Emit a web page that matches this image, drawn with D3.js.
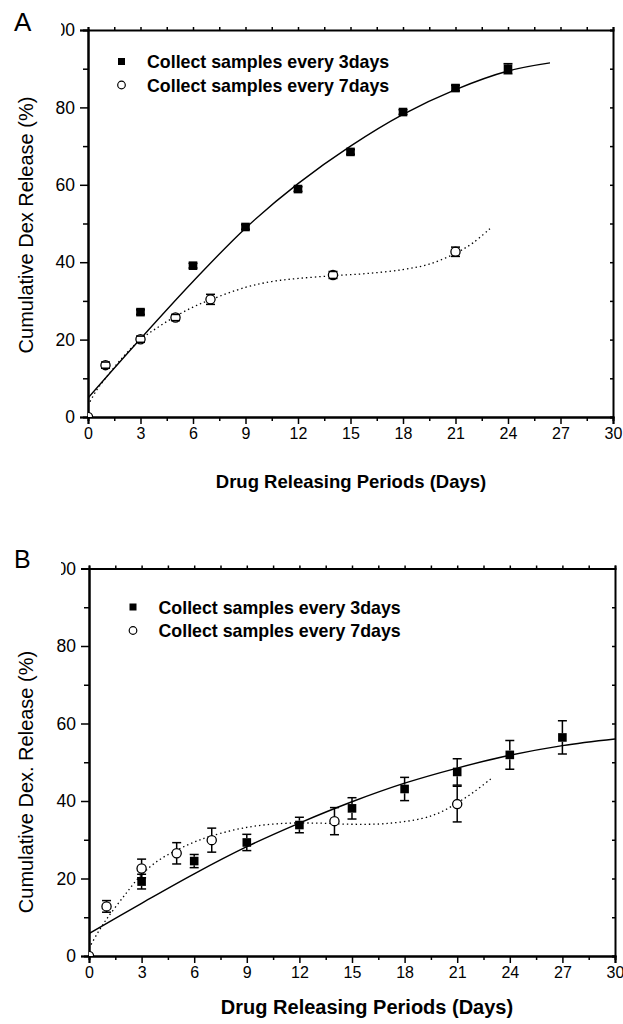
<!DOCTYPE html>
<html><head><meta charset="utf-8">
<script src="https://cdn.jsdelivr.net/npm/d3@7"></script>
<style>body{margin:0;background:#fff}svg{display:block}text{font-family:"Liberation Sans",Arial,sans-serif;fill:#000}</style>
</head><body>
<script>
// ---------- data ----------
const seriesNames = ["Collect samples every 3days", "Collect samples every 7days"];
const xTickLabels = [0,3,6,9,12,15,18,21,24,27,30];
const yTickLabels = [0,20,40,60,80,100];

// Panel A
const daysA3 = [3,6,9,12,15,18,21,24];
const valsA3 = [27.1,39.1,49.1,58.9,68.5,78.8,85.0,90.0];
const errA3  = [0.6,0.6,0.6,0.6,0.6,0.6,0.7,1.3];
const daysA7 = [0,1,3,5,7,14,21];
const valsA7 = [0,13.4,20.1,25.7,30.4,36.7,42.7];
const errA7  = [0,0.8,0.8,0.8,1.3,0.9,1.2];
const fitDaysA3 = [0,3,6,9,12,15,18,21,24,26.4];
const fitValsA3 = [4.9,20.2,35.0,48.8,60.3,70.0,78.2,84.6,89.4,91.5];
const fitDaysA7 = [0,0.5,1,2,3,4,5,6,7,9,10.5,12,14,16,18,19.5,21,22,23];
const fitValsA7 = [3,7,10,15.5,20,23.2,26,28.4,30.3,33.5,35.0,35.8,36.5,37.1,38.1,39.5,42.3,45.0,48.8];

// Panel B
const daysB3 = [3,6,9,12,15,18,21,24,27];
const valsB3 = [19.2,24.5,29.3,33.8,38.1,43.1,47.5,51.9,56.4];
const errB3  = [1.9,1.7,2.1,2.0,2.75,3.0,3.4,3.7,4.3];
const daysB7 = [0,1,3,5,7,14,21];
const valsB7 = [0,12.8,22.6,26.5,29.9,34.8,39.2];
const errB7  = [0,1.5,2.4,2.75,3.1,3.5,4.6];
const fitDaysB3 = [0,3,6,9,12,15,18,21,24,27,30];
const fitValsB3 = [5.8,13.6,21.2,28.2,34.3,39.8,44.6,48.5,51.8,54.3,56.0];
const fitDaysB7 = [0,0.5,1,2,3,4,5,6,7,9,11,13,15,17,19,20,21,22,23];
const fitValsB7 = [2,6,9.5,15.5,21,24.8,27.3,29.4,31,33.2,34.2,34.3,34.0,34.2,35.5,37,39.5,42.5,46];

const zip = (xs, ys, es) => xs.map((x,i)=>({x, y: ys[i], e: es ? es[i] : 0}));

const svg = d3.select("body").append("svg").attr("width",623).attr("height",1024);

function panel(cfg){
  const g = svg.append("g");
  const x = d3.scaleLinear().domain([0,30]).range([cfg.x0, cfg.x1]);
  const y = d3.scaleLinear().domain([0,100]).range([cfg.y0, cfg.y1]);
  const clipId = "clip" + cfg.letter;
  svg.append("clipPath").attr("id", clipId).append("rect")
     .attr("x", cfg.clipX - cfg.x0).attr("y", -2000).attr("width", 600).attr("height", 4000);
  const plotClip = "plot" + cfg.letter;
  svg.append("clipPath").attr("id", plotClip).append("rect")
     .attr("x", cfg.x0).attr("y", cfg.y1).attr("width", cfg.x1-cfg.x0).attr("height", cfg.y0-cfg.y1);

  // bottom axis
  const bx = g.append("g").attr("transform",`translate(0,${cfg.y0})`)
    .call(d3.axisBottom(x).tickValues(xTickLabels).tickSize(7).tickPadding(4).tickFormat(d3.format("d")));
  bx.selectAll(".tick text").style("font-size","16px");
  g.append("g").attr("transform",`translate(0,${cfg.y0})`)
    .call(d3.axisBottom(x).tickValues(xTickLabels.slice(0,-1).map(d=>d+1.5)).tickSize(4).tickFormat(""));
  // left axis
  const ly = g.append("g").attr("transform",`translate(${cfg.x0},0)`)
    .call(d3.axisLeft(y).tickValues(yTickLabels).tickSize(8).tickPadding(5).tickFormat(d3.format("d")));
  ly.selectAll(".tick text").style("font-size","17.5px")
    .filter(d=>d===100).attr("clip-path",`url(#${clipId})`);
  g.append("g").attr("transform",`translate(${cfg.x0},0)`)
    .call(d3.axisLeft(y).tickValues([10,30,50,70,90]).tickSize(5).tickFormat(""));
  // top axis
  g.append("g").attr("transform",`translate(0,${cfg.y1})`)
    .call(d3.axisTop(x).tickValues(d3.range(0,30.01,1.5)).tickSize(3).tickFormat(""));
  // right axis
  g.append("g").attr("transform",`translate(${cfg.x1},0)`)
    .call(d3.axisLeft(y).tickValues(d3.range(0,100.01,10)).tickSize(3).tickFormat(""));

  g.selectAll(".domain").attr("stroke","#000").attr("stroke-width",2);
  g.selectAll(".tick line").attr("stroke","#000").attr("stroke-width",1.5);
  g.selectAll(".tick text").attr("fill","#000");

  // axis titles
  g.append("text").attr("x", cfg.xtX).attr("y", cfg.xtY).attr("text-anchor","middle")
    .style("font-weight","bold").style("font-size", cfg.xtSize+"px").text("Drug Releasing Periods (Days)");
  g.append("text").attr("transform",`translate(33,${cfg.ytY}) rotate(-90)`).attr("text-anchor","middle")
    .style("font-size","20px").text(cfg.ytText);
  g.append("text").attr("x",14).attr("y",cfg.letterY).style("font-size",cfg.letterSize+"px").text(cfg.letter);

  const m = g.append("g").attr("clip-path",`url(#${plotClip})`);
  // fitted curves
  const line = d3.line().x(d=>x(d.x)).y(d=>y(d.y)).curve(d3.curveCatmullRom.alpha(0.5));
  m.append("path").datum(zip(cfg.fit3d, cfg.fit3v)).attr("d",line)
    .attr("fill","none").attr("stroke","#000").attr("stroke-width",1.4);
  m.append("path").datum(zip(cfg.fit7d, cfg.fit7v)).attr("d",line)
    .attr("fill","none").attr("stroke","#000").attr("stroke-width",1.3).attr("stroke-dasharray","1.4,3");

  const r = 4.6, hs = 4.3;
  function errorBars(data, half){
    data.forEach(d=>{
      const cx = x(d.x), top = y(d.y + d.e), bot = y(d.y - d.e), c = y(d.y);
      if (d.e === 0) return;
      if (c - top > half){
        m.append("line").attr("x1",cx).attr("x2",cx).attr("y1",top).attr("y2",c-half).attr("stroke","#000").attr("stroke-width",1.5);
        m.append("line").attr("x1",cx).attr("x2",cx).attr("y1",c+half).attr("y2",bot).attr("stroke","#000").attr("stroke-width",1.5);
      }
      [top,bot].forEach(yy=>m.append("line").attr("x1",cx-4.5).attr("x2",cx+4.5).attr("y1",yy).attr("y2",yy)
        .attr("stroke","#000").attr("stroke-width",1.5));
    });
  }
  const d3s = zip(cfg.d3, cfg.v3, cfg.e3), d7s = zip(cfg.d7, cfg.v7, cfg.e7);
  m.selectAll(null).data(d7s).enter().append("circle")
    .attr("cx",d=>x(d.x)).attr("cy",d=>y(d.y)).attr("r",r)
    .attr("fill","#fff").attr("stroke","#000").attr("stroke-width",1.3);
  m.selectAll(null).data(d3s).enter().append("rect")
    .attr("x",d=>x(d.x)-hs).attr("y",d=>y(d.y)-hs).attr("width",2*hs).attr("height",2*hs).attr("fill","#000");
  errorBars(d7s, r);
  errorBars(d3s, hs);

  // legend
  const lg = g.append("g");
  lg.append("rect").attr("x",cfg.legX-3.5).attr("y",cfg.legY-3.5).attr("width",7).attr("height",7).attr("fill","#000");
  lg.append("circle").attr("cx",cfg.legX).attr("cy",cfg.legY+23.5).attr("r",3.8)
    .attr("fill","#fff").attr("stroke","#000").attr("stroke-width",1.2);
  seriesNames.forEach((s,i)=>lg.append("text").attr("x",cfg.legX+25.5).attr("y",cfg.legY+6.5+i*23.5)
    .style("font-weight","bold").style("font-size","17.8px").text(s));
}

panel({letter:"A", letterY:31, letterSize:26, x0:88, x1:613, y0:417, y1:30, clipX:61,
  xtX:351, xtY:488, xtSize:18.5, ytY:225, ytText:"Cumulative Dex Release (%)",
  legX:121.5, legY:61.5,
  d3:daysA3, v3:valsA3, e3:errA3, d7:daysA7, v7:valsA7, e7:errA7,
  fit3d:fitDaysA3, fit3v:fitValsA3, fit7d:fitDaysA7, fit7v:fitValsA7});

panel({letter:"B", letterY:568, letterSize:25, x0:89, x1:615, y0:956, y1:568.5, clipX:61,
  xtX:367, xtY:1014, xtSize:20, ytY:782, ytText:"Cumulative Dex. Release (%)",
  legX:133, legY:607,
  d3:daysB3, v3:valsB3, e3:errB3, d7:daysB7, v7:valsB7, e7:errB7,
  fit3d:fitDaysB3, fit3v:fitValsB3, fit7d:fitDaysB7, fit7v:fitValsB7});
</script>
</body></html>
